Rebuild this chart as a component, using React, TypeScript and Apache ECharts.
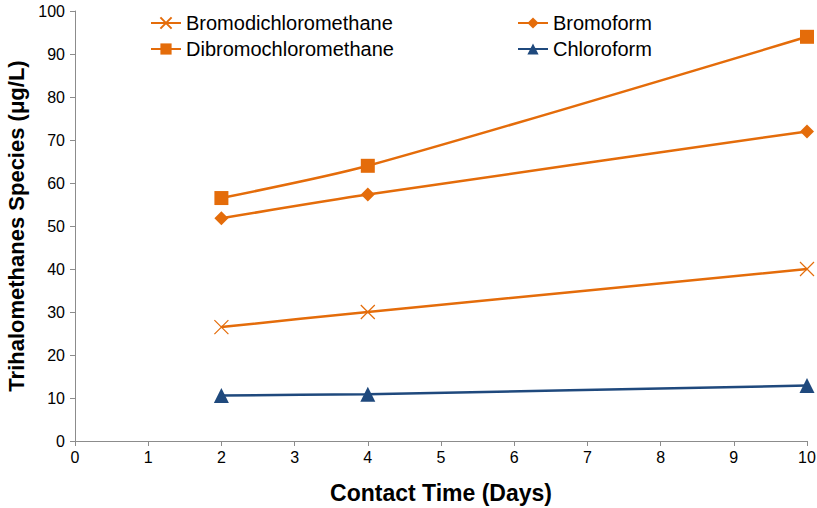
import React, { useEffect, useRef } from "react";
import * as echarts from "echarts";

const days = [2, 4, 10];
const bromodichloromethane = [26.5, 30.0, 40.0];
const dibromochloromethane = [56.5, 64.0, 94.0];
const bromoform = [51.8, 57.3, 72.0];
const chloroform = [10.6, 10.9, 12.9];
const xTicks = { min: 0, max: 10, interval: 1 };
const yTicks = { min: 0, max: 100, interval: 10 };

const ORANGE = "#E46C0A";
const BLUE = "#1F497D";
const FONT = "'Liberation Sans', Arial, sans-serif";

const pairs = (ys: number[]) => days.map((d, i) => [d, ys[i]]);

export default function App() {
  const ref = useRef<HTMLDivElement>(null);
  useEffect(() => {
    if (!ref.current) return;
    const chart = echarts.init(ref.current, undefined, { renderer: "svg" });
    const axisLine = { show: true, lineStyle: { color: "#8C8C8C", width: 1 } };
    const legendText = { fontSize: 20, color: "#000", fontFamily: FONT };
    chart.setOption({
      animation: false,
      textStyle: { fontFamily: FONT },
      grid: { left: 75, right: 10, top: 11, bottom: 67, containLabel: false, outerBoundsMode: "none" },
      legend: [
        {
          orient: "vertical",
          left: 145,
          top: 8,
          itemGap: 6,
          itemWidth: 30,
          itemHeight: 14,
          textStyle: legendText,
          data: ["Bromodichloromethane", "Dibromochloromethane"],
        },
        {
          orient: "vertical",
          left: 512,
          top: 8,
          itemGap: 6,
          itemWidth: 30,
          itemHeight: 14,
          textStyle: legendText,
          data: ["Bromoform", "Chloroform"],
        },
      ],
      xAxis: {
        type: "value",
        ...xTicks,
        name: "Contact Time (Days)",
        nameLocation: "middle",
        nameGap: 40,
        nameTextStyle: { fontSize: 23, fontWeight: "bold", color: "#000", fontFamily: FONT },
        axisLine,
        axisTick: { show: true, length: 5, lineStyle: { color: "#8C8C8C" } },
        axisLabel: { fontSize: 16, color: "#000", margin: 8 },
        splitLine: { show: false },
      },
      yAxis: {
        type: "value",
        ...yTicks,
        name: "Trihalomethanes Species (μg/L)",
        nameLocation: "middle",
        nameGap: 46,
        nameTextStyle: { fontSize: 22, fontWeight: "bold", color: "#000", fontFamily: FONT },
        axisLine,
        axisTick: { show: true, length: 5, lineStyle: { color: "#8C8C8C" } },
        axisLabel: { fontSize: 16, color: "#000", margin: 10 },
        splitLine: { show: false },
      },
      series: [
        {
          name: "Bromodichloromethane",
          type: "line",
          data: pairs(bromodichloromethane),
          smooth: 0.25,
          symbol: "path://M0,0L10,10M10,0L0,10",
          symbolSize: 14,
          itemStyle: { color: ORANGE, borderColor: ORANGE, borderWidth: 1.2 },
          lineStyle: { color: ORANGE, width: 2.5 },
        },
        {
          name: "Dibromochloromethane",
          type: "line",
          data: pairs(dibromochloromethane),
          smooth: 0.25,
          symbol: "rect",
          symbolSize: 14,
          itemStyle: { color: ORANGE },
          lineStyle: { color: ORANGE, width: 2.5 },
        },
        {
          name: "Bromoform",
          type: "line",
          data: pairs(bromoform),
          smooth: 0.25,
          symbol: "diamond",
          symbolSize: 14,
          itemStyle: { color: ORANGE },
          lineStyle: { color: ORANGE, width: 2.5 },
        },
        {
          name: "Chloroform",
          type: "line",
          data: pairs(chloroform),
          smooth: 0.25,
          symbol: "triangle",
          symbolSize: 15,
          itemStyle: { color: BLUE },
          lineStyle: { color: BLUE, width: 2.5 },
        },
      ],
    });
    return () => chart.dispose();
  }, []);
  return <div ref={ref} style={{ width: 817, height: 508, position: "absolute", left: 0, top: 0 }} />;
}
